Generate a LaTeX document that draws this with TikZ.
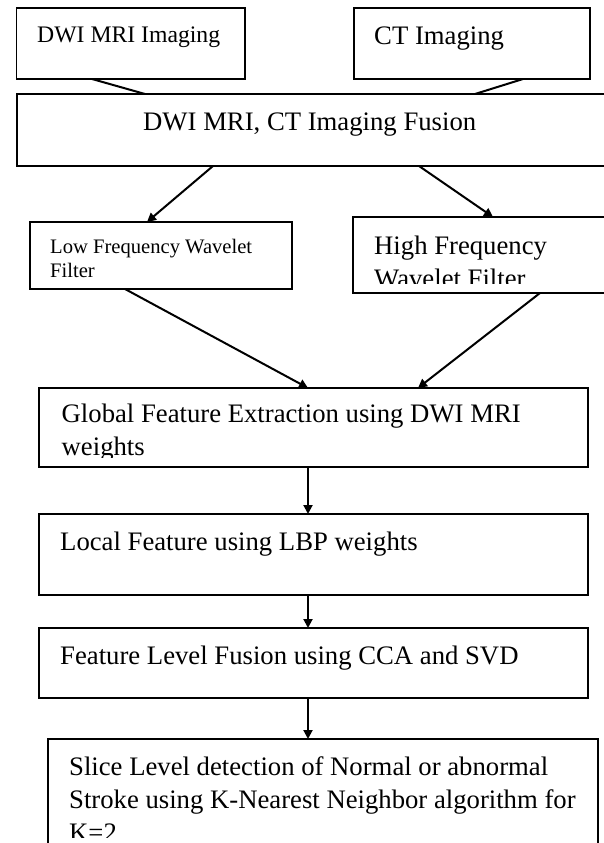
\documentclass[tikz,border=0pt]{standalone}
\usepackage{fontspec}
\setmainfont{Liberation Serif}
\usetikzlibrary{arrows.meta}
\begin{document}
\begin{tikzpicture}[x=1pt,y=-1pt,
  box/.style={draw, line width=1.7pt, inner sep=0pt, outer sep=0pt, anchor=north west},
  txt/.style={anchor=base west, inner sep=0pt, font=\fontsize{26.7}{33}\selectfont},
  smalltxt/.style={anchor=base west, inner sep=0pt, font=\fontsize{23.7}{28}\selectfont},
  tinytxt/.style={anchor=base west, inner sep=0pt, font=\fontsize{20.6}{24}\selectfont},
  link/.style={line width=2pt},
  arr/.style={line width=2pt, -{Triangle[length=9pt,width=9pt]}}]
\useasboundingbox (0,0) rectangle (604,843);
% boxes
\node[box, minimum width=228.5pt, minimum height=71pt] (dwi) at (16.5,8) {};
\node[box, minimum width=236pt, minimum height=71pt] (ct) at (354,8) {};
\node[box, minimum width=640pt, minimum height=72pt] (fus) at (17,94) {};
\node[box, minimum width=262pt, minimum height=67pt] (low) at (30,222) {};
\node[box, minimum width=300pt, minimum height=76pt] (high) at (353,217) {};
\node[box, minimum width=549pt, minimum height=79pt] (glob) at (39,388) {};
\node[box, minimum width=549pt, minimum height=81pt] (loc) at (39,514) {};
\node[box, minimum width=549pt, minimum height=70pt] (feat) at (39,628) {};
\node[box, minimum width=550pt, minimum height=140pt] (slice) at (48,739) {};
% texts
\node[smalltxt] (dwiT) at (37,43) {DWI MRI Imaging};
\node[txt] (ctT) at (374,45) {CT Imaging};
\node[txt] (fusT) at (143,130) {DWI MRI, CT Imaging Fusion};
\node[tinytxt] (lowT1) at (50,253) {Low Frequency Wavelet};
\node[tinytxt] (lowT2) at (50,277) {Filter};
\node[txt] (highT1) at (374,254) {High Frequency};
\begin{scope}
  \clip (high.north west) rectangle ([yshift=10pt]high.south east);
  \node[txt] (highT2) at (374,287.5) {Wavelet Filter};
\end{scope}
\node[txt] (globT1) at (61.5,422) {Global Feature Extraction using DWI MRI};
\begin{scope}
  \clip (glob.north west) rectangle ([yshift=10pt]glob.south east);
  \node[txt] (globT2) at (61.5,455) {weights};
\end{scope}
\node[txt] (locT) at (60,550) {Local Feature using LBP weights};
\node[txt] (featT) at (60,664) {Feature Level Fusion using CCA and SVD};
\node[txt] (sliceT1) at (69,775) {Slice Level detection of Normal or abnormal};
\node[txt] (sliceT2) at (69,808) {Stroke using K-Nearest Neighbor algorithm for};
\begin{scope}
  \clip (slice.north west) rectangle (604,837);
  \node[txt] (sliceT3) at (69,841) {K=2};
\end{scope}
% connectors
\draw[link] ([xshift=75.5pt]dwi.south west) -- ([xshift=128pt]fus.north west);
\draw[link] ([xshift=169pt]ct.south west) -- ([xshift=458pt]fus.north west);
\draw[arr] ([xshift=196pt]fus.south west) -- ([xshift=117pt]low.north west);
\draw[arr] ([xshift=402pt]fus.south west) -- ([xshift=140pt]high.north west);
\draw[arr] ([xshift=95pt]low.south west) -- ([xshift=269pt]glob.north west);
\draw[arr] ([xshift=187pt]high.south west) -- ([xshift=379pt]glob.north west);
\draw[arr] ([xshift=269pt]glob.south west) -- ([xshift=269pt]loc.north west);
\draw[arr] ([xshift=269pt]loc.south west) -- ([xshift=269pt]feat.north west);
\draw[arr] ([xshift=269pt]feat.south west) -- ([xshift=260pt]slice.north west);
\end{tikzpicture}
\end{document}
